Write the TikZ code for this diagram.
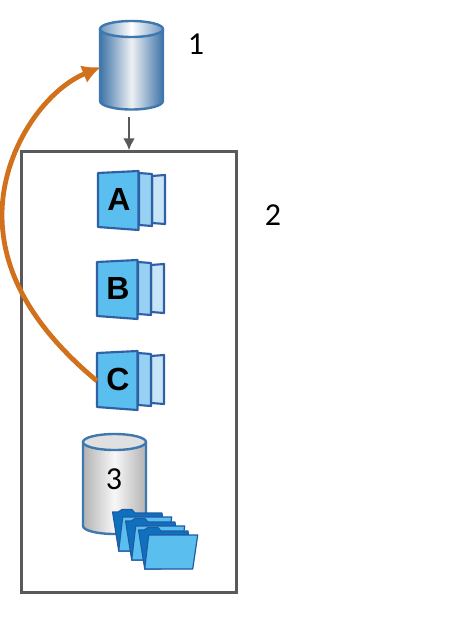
\documentclass[tikz,border=0pt]{standalone}
\usepackage{fontspec}
\usetikzlibrary{arrows.meta}
\setmainfont{Carlito}
\newfontfamily\letterfont{Liberation Sans}
\definecolor{cylblue}{HTML}{3F74A8}
\definecolor{cyledge}{HTML}{3E78AE}
\definecolor{cylpale}{HTML}{EDF0F3}
\definecolor{docedge}{HTML}{2F5FA5}
\definecolor{docone}{HTML}{5ABFEF}
\definecolor{doctwo}{HTML}{97D1F3}
\definecolor{docthree}{HTML}{C8E5F8}
\definecolor{folddark}{HTML}{0F70BE}
\definecolor{foldedge}{HTML}{1F5AA5}
\definecolor{arroworange}{HTML}{D2711C}
\definecolor{boxgray}{HTML}{595959}
\tikzset{
  numlabel/.style={font=\fontsize{24}{28}\selectfont,text=black,inner sep=0pt},
  letlabel/.style={font=\letterfont\bfseries\fontsize{24}{27}\selectfont,text=black,inner sep=0pt},
  pagea/.style={draw=docedge,fill=docone,line width=1.6pt,line join=round},
  pageb/.style={draw=docedge,fill=doctwo,line width=1.6pt,line join=round},
  pagec/.style={draw=docedge,fill=docthree,line width=1.6pt,line join=round},
  folderback/.style={draw=foldedge,fill=folddark,line width=0.8pt,line join=round},
  folderfront/.style={draw=foldedge,fill=docone,line width=0.9pt,line join=round},
  cylline/.style={draw=cyledge,line width=1.8pt},
  connector/.style={draw=boxgray,line width=1.9pt,-{Latex[length=9pt,width=9pt]}},
  curved/.style={draw=arroworange,line width=3.6pt,-{Latex[length=14pt,width=14pt]}},
}
% #1 x offset, #2 y offset, #3 letter, #4 name
\newcommand{\docstack}[4]{%
  \begin{scope}[shift={(#1,#2)}]
    \path[pagec] (152,176) -- (165,175) -- (165,224) -- (152,223) -- cycle;
    \path[pageb] (139,173) -- (152,174) -- (152,226) -- (139,225) -- cycle;
    \path[pagea] (98,173) -- (138.5,171) -- (138.5,230) -- (98,227) -- cycle;
    \node[letlabel] (#4) at (119,199) {#3};
  \end{scope}}
% #1 x offset, #2 y offset
\newcommand{\folderitem}[2]{%
  \begin{scope}[shift={(#1,#2)}]
    \path[folderback] (112.5,512) -- (118,512) -- (122,509.5) -- (132,509.5) -- (135,513) -- (162,513) -- (163,520) -- (135,551) -- (118.7,551) -- cycle;
    \path[folderfront] (122.7,517) -- (171.7,517) -- (166.7,551) -- (118.7,551) -- cycle;
  \end{scope}}
\begin{document}
\begin{tikzpicture}[x=0.75pt,y=-0.75pt]
\useasboundingbox (0,0) rectangle (450,617);
\fill[white] (0,0) rectangle (450,617);
% top cylinder
\shade[left color=cylblue,right color=cylblue,middle color=cylpale]
  (100,29) -- (100,101) arc[start angle=180,end angle=0,x radius=31.5,y radius=8.5] -- (163,29)
  arc[start angle=0,end angle=-180,x radius=31.5,y radius=8] -- cycle;
\path[cylline] (100,29) -- (100,101) arc[start angle=180,end angle=0,x radius=31.5,y radius=8.5] -- (163,29);
\shade[left color=cylblue!75!white,right color=cylblue!75!white,middle color=white,draw=cyledge,line width=1.8pt]
  (131.5,29) ellipse[x radius=31.5,y radius=8];
\node[numlabel] (one) at (196,44) {1};
% box
\node[draw=boxgray,line width=1.8pt,minimum width=161.25pt,minimum height=330.75pt,inner sep=0pt] (mainbox) at (129,372) {};
\node[numlabel] (two) at (273,215) {2};
% documents
\docstack{0}{0}{A}{letA}
\docstack{-1}{89}{B}{letB}
\docstack{-1}{180}{C}{letC}
% grey cylinder
\shade[left color=black!30,right color=black!30,middle color=black!3]
  (83,442) -- (83,526) arc[start angle=180,end angle=0,x radius=31.5,y radius=8] -- (146,442)
  arc[start angle=0,end angle=-180,x radius=31.5,y radius=8] -- cycle;
\path[cylline] (83,442) -- (83,526) arc[start angle=180,end angle=0,x radius=31.5,y radius=8] -- (146,442);
\path[draw=cyledge,line width=1.8pt,fill=black!12] (114.5,442) ellipse[x radius=31.5,y radius=8];
\node[numlabel] (three) at (114,479) {3};
% folders
\folderitem{0}{0}
\folderitem{13}{9}
\folderitem{26}{18}
% connectors
\coordinate (downstart) at (129,117);
\draw[connector] (downstart) -- (mainbox.north -| downstart);
\coordinate (curvestart) at (97,381);
\coordinate (curveend) at (101,67);
\draw[curved] (curvestart) .. controls (30,325) and (2,270) .. (2,215) .. controls (2,150) and (45,90) .. (curveend);
\end{tikzpicture}
\end{document}
